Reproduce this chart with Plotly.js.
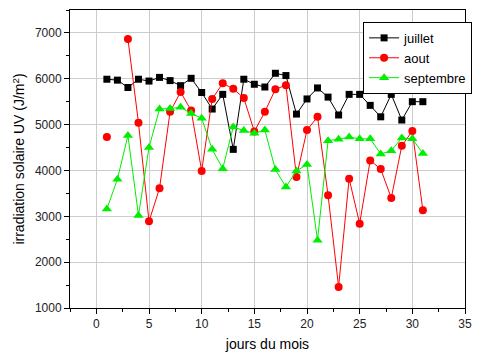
<!DOCTYPE html>
<html><head><meta charset="utf-8">
<script src="https://cdn.plot.ly/plotly-3.0.1.min.js"></script>
<style>html,body{margin:0;padding:0;background:#fff}</style>
</head><body>
<div id="chart" style="width:482px;height:356px"></div>
<script>
var days = [1,2,3,4,5,6,7,8,9,10,11,12,13,14,15,16,17,18,19,20,21,22,23,24,25,26,27,28,29,30,31];
var juillet = [5990,5970,5810,5990,5950,6030,5960,5850,6010,5700,5340,5660,4460,5990,5880,5820,6120,6070,5230,5560,5800,5600,5210,5660,5660,5420,5170,5660,5100,5500,5500];
var aout = [4730,null,6870,5040,2890,3610,5280,5710,5310,3990,5560,5900,5780,5580,4850,5280,5770,5860,3860,4880,5170,3460,1460,3820,2840,4220,4030,3400,4540,4860,3130];
var septembre = [3160,3810,4760,3020,4500,5340,5350,5380,5240,5140,4460,4040,4950,4870,4810,4880,4020,3640,3990,4130,2480,4650,4680,4730,4690,4690,4360,4430,4710,4690,4370];
var xTicks = [0,5,10,15,20,25,30,35];
var yTicks = [1000,2000,3000,4000,5000,6000,7000];

var font = {family:'Liberation Sans, Arial, sans-serif', size:12, color:'#222'};
var traces = [
 {x:days, y:juillet, name:'juillet', mode:'lines+markers', connectgaps:false,
  line:{color:'#000000', width:1}, marker:{symbol:'square', size:7, color:'#000000'}},
 {x:days, y:aout, name:'aout', mode:'lines+markers', connectgaps:false,
  line:{color:'#ff0000', width:1}, marker:{symbol:'circle', size:8, color:'#ff0000'}},
 {x:days, y:septembre, name:'septembre', mode:'lines+markers', connectgaps:false,
  line:{color:'#00ee00', width:1}, marker:{symbol:'triangle-up', size:9, color:'#00ee00'}}
];
var layout = {
 width:482, height:356,
 margin:{l:70, r:11, t:10, b:48},
 paper_bgcolor:'#fff', plot_bgcolor:'#fff',
 font:font,
 showlegend:true,
 legend:{x:0.742, y:0.96, xanchor:'left', yanchor:'top', bgcolor:'#fff',
   bordercolor:'#000', borderwidth:1, font:{family:font.family, size:13, color:'#000'},
   tracegroupgap:0, itemwidth:30},
 xaxis:{range:[-2.5,35], tickvals:xTicks, ticktext:xTicks.map(String),
   showgrid:true, gridcolor:'#cccccc', gridwidth:1, zeroline:false,
   showline:true, linecolor:'#000', linewidth:1, mirror:true,
   ticks:'outside', ticklen:5, tickcolor:'#000',
   minor:{dtick:2.5, tick0:0, ticks:'outside', ticklen:3, tickcolor:'#000', showgrid:false},
   title:{text:'jours du mois', font:{family:font.family, size:14, color:'#000'}, standoff:8}},
 yaxis:{range:[1000,7500], tickvals:yTicks, ticktext:yTicks.map(String),
   showgrid:true, gridcolor:'#cccccc', gridwidth:1, zeroline:false,
   showline:true, linecolor:'#000', linewidth:1, mirror:true,
   ticks:'outside', ticklen:5, tickcolor:'#000',
   minor:{dtick:500, tick0:0, ticks:'outside', ticklen:3, tickcolor:'#000', showgrid:false},
   title:{text:'irradiation solaire UV (J/m<sup>2</sup>)', font:{family:font.family, size:14, color:'#000'}, standoff:6}}
};
Plotly.newPlot('chart', traces, layout, {displayModeBar:false, staticPlot:true});
</script>
</body></html>
